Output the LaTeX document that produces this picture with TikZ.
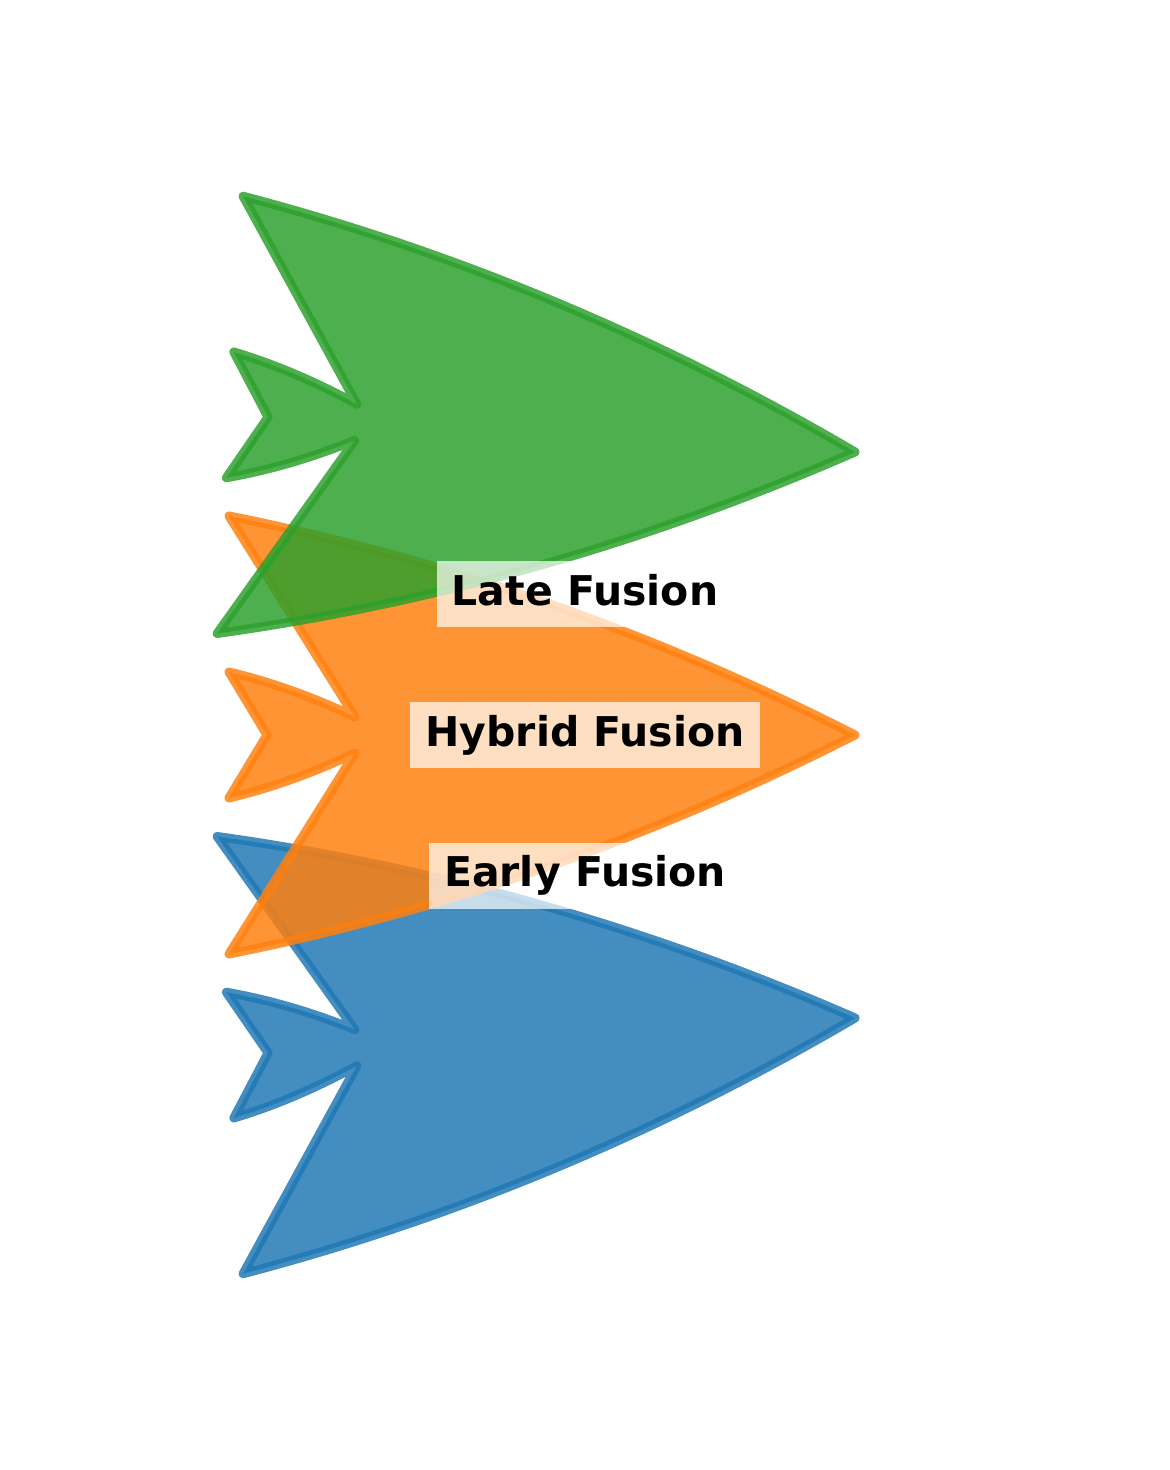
\documentclass[tikz,border=0pt]{standalone}
\usepackage{fontspec}
\setmainfont{DejaVu Sans}
\definecolor{lategreen}{HTML}{2CA02C}
\definecolor{hybridorange}{HTML}{FF7F0E}
\definecolor{earlyblue}{HTML}{1F77B4}

\begin{document}
\begin{tikzpicture}[x=0.5pt, y=0.5pt,
      fusion/.pic={
        \path[pic actions] (0,0) .. controls (-202,103) and (-411,176) .. (-626,219)
          -- (-500,18) .. controls (-542,38) and (-584,53) .. (-626,63)
          -- (-588,0) -- (-626,-63)
          .. controls (-584,-53) and (-542,-38) .. (-500,-18)
          -- (-626,-219) .. controls (-411,-176) and (-202,-103) .. (0,0) -- cycle;
      },
      fusionshape/.style={draw=#1, fill=#1, line width=4.5pt, line join=round,
                          opacity=0.84},
      fusionlabel/.style={fill=white, fill opacity=0.7, text opacity=1,
                          font=\fontsize{20.5}{24}\selectfont\bfseries,
                          text height=15.6pt, text depth=4.9pt,
                          inner xsep=7.5pt, inner ysep=6.25pt}]
    \useasboundingbox (0,0) rectangle (1170,1470);
    % arrows, bottom to top
    \pic[fusionshape=earlyblue, rotate=3.4] (early shape) at (855,452) {fusion};
    \pic[fusionshape=hybridorange] (hybrid shape) at (855,735) {fusion};
    \pic[fusionshape=lategreen, rotate=-3.4] (late shape) at (855,1018) {fusion};
    % labels
    \node[fusionlabel] (late) at (585,875.5) {Late Fusion};
    \node[fusionlabel] (hybrid) at (585,734.5) {Hybrid Fusion};
    \node[fusionlabel] (early) at (585,594) {Early Fusion};
  \end{tikzpicture}
\end{document}
